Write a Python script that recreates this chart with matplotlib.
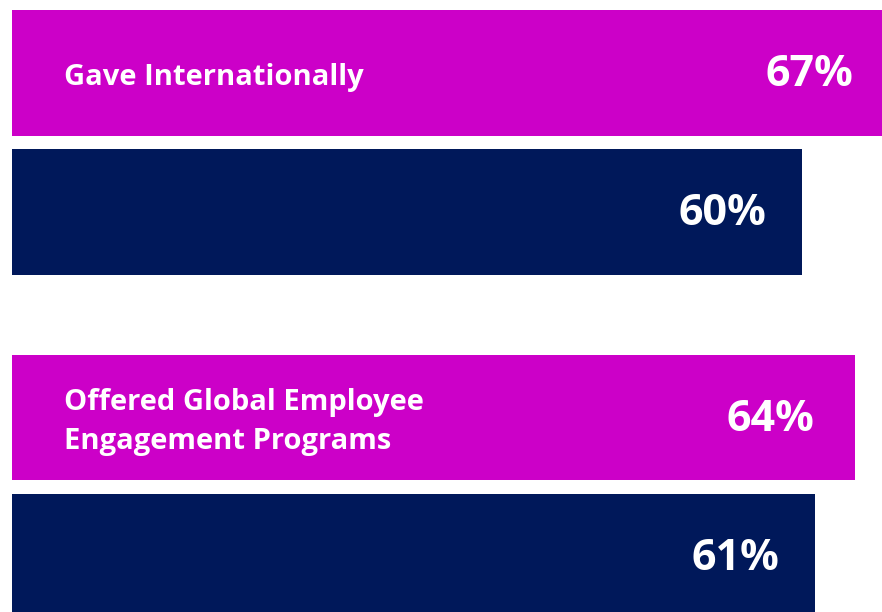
import numpy as np
import matplotlib.pyplot as plt

plt.rcParams['font.family'] = ['Open Sans', 'DejaVu Sans']

# Data
categories = ["Gave Internationally", "Offered Global Employee\nEngagement Programs"]
series_a = [67, 64]   # magenta bars
series_b = [60, 61]   # navy bars
color_a = "#CC00C8"
color_b = "#00185A"

# Layout (in bar-pitch units)
group_step = 2.48
pair_step = 1.0
bar_h = 0.9

fig = plt.figure(figsize=(8.82, 6.12), dpi=100)
ax = fig.add_axes([0, 0, 1, 1])

for i, cat in enumerate(categories):
    ya = i * group_step
    yb = ya + pair_step
    ax.barh(ya, series_a[i], height=bar_h, color=color_a)
    ax.barh(yb, series_b[i], height=bar_h, color=color_b)
    ax.text(3.95, ya + 0.03, cat, color="white", fontsize=21, fontweight="bold",
            ha="left", va="center", linespacing=1.42)
    for y, v, off in [(ya, series_a[i], -29), (yb, series_b[i], -25.5)]:
        ax.annotate(f"{v}%", xy=(v, y + 0.01), xytext=(off, 0), textcoords="offset points",
                    color="white", fontsize=31, fontweight="bold",
                    ha="right", va="center", annotation_clip=False)

px_per_unit = 13.165
ax.set_xlim(-12 / px_per_unit, (882 - 12) / px_per_unit)
ax.set_ylim((612 - 73) / 139, -73 / 139)
ax.axis("off")

fig.savefig("out.png", dpi=100, facecolor="white")
